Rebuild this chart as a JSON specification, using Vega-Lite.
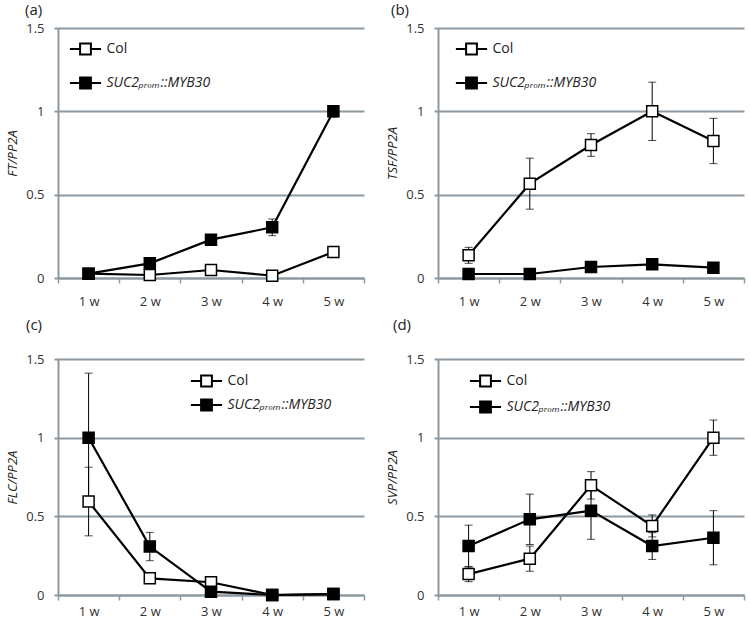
{
  "$schema": "https://vega.github.io/schema/vega-lite/v6.json",
  "padding": {"top": 3, "left": 6, "right": 5, "bottom": 5},
  "background": "white",
  "config": {
    "view": {"stroke": null},
    "font": "Open Sans",
    "axisY": {"grid": true, "gridColor": "#8d989f", "gridWidth": 2.2, "domainColor": "#8d989f", "domainWidth": 2, "tickColor": "#8d989f", "tickWidth": 2, "tickSize": 4, "labelPadding": 10, "labelExpr": "'' + datum.value", "labelFontSize": 13, "labelColor": "#333333", "labelFont": "Open Sans", "titleFont": "Open Sans", "titleFontStyle": "italic", "titleFontWeight": "normal", "titleFontSize": 13, "titleColor": "#222222", "titlePadding": 6},
    "axisX": {"grid": false, "domainColor": "#8d989f", "domainWidth": 2, "tickColor": "#8d989f", "tickWidth": 1.5, "tickSize": 5, "tickBand": "extent", "labelAngle": 0, "labelPadding": 5, "labelFontSize": 13, "labelColor": "#333333", "labelFont": "Open Sans", "title": null},
    "legend": {"orient": "none", "title": null, "padding": 0, "symbolSize": 144, "symbolType": "M-2.6,0H-0.9M0.9,0H2.6M-0.9,-0.9H0.9V0.9H-0.9Z", "symbolStrokeColor": "black", "symbolStrokeWidth": 2, "labelOffset": 14, "labelFont": "Open Sans", "labelFontSize": 14, "labelColor": "#222222", "labelFontStyle": {"expr": "datum.value === 'Col' ? 'normal' : 'italic'"}},
    "title": {"anchor": "start", "frame": "group", "fontSize": 15, "fontWeight": "normal", "font": "Open Sans", "color": "#222222"}
  },
  "datasets": {
    "d": [
      {"gene": "FT", "week": "1 w", "series": "Col", "value": 0.026, "err": 0.005},
      {"gene": "FT", "week": "2 w", "series": "Col", "value": 0.018, "err": 0.005},
      {"gene": "FT", "week": "3 w", "series": "Col", "value": 0.048, "err": 0.008},
      {"gene": "FT", "week": "4 w", "series": "Col", "value": 0.014, "err": 0.005},
      {"gene": "FT", "week": "5 w", "series": "Col", "value": 0.156, "err": 0.01},
      {"gene": "FT", "week": "1 w", "series": "SUC2ₚᵣₒₘ::MYB30", "value": 0.026, "err": 0.008},
      {"gene": "FT", "week": "2 w", "series": "SUC2ₚᵣₒₘ::MYB30", "value": 0.088, "err": 0.01},
      {"gene": "FT", "week": "3 w", "series": "SUC2ₚᵣₒₘ::MYB30", "value": 0.23, "err": 0.02},
      {"gene": "FT", "week": "4 w", "series": "SUC2ₚᵣₒₘ::MYB30", "value": 0.304, "err": 0.05},
      {"gene": "FT", "week": "5 w", "series": "SUC2ₚᵣₒₘ::MYB30", "value": 1.0, "err": 0.035},
      {"gene": "TSF", "week": "1 w", "series": "Col", "value": 0.136, "err": 0.048},
      {"gene": "TSF", "week": "2 w", "series": "Col", "value": 0.566, "err": 0.153},
      {"gene": "TSF", "week": "3 w", "series": "Col", "value": 0.798, "err": 0.068},
      {"gene": "TSF", "week": "4 w", "series": "Col", "value": 1.0, "err": 0.175},
      {"gene": "TSF", "week": "5 w", "series": "Col", "value": 0.822, "err": 0.136},
      {"gene": "TSF", "week": "1 w", "series": "SUC2ₚᵣₒₘ::MYB30", "value": 0.024, "err": 0.005},
      {"gene": "TSF", "week": "2 w", "series": "SUC2ₚᵣₒₘ::MYB30", "value": 0.024, "err": 0.005},
      {"gene": "TSF", "week": "3 w", "series": "SUC2ₚᵣₒₘ::MYB30", "value": 0.066, "err": 0.01},
      {"gene": "TSF", "week": "4 w", "series": "SUC2ₚᵣₒₘ::MYB30", "value": 0.082, "err": 0.01},
      {"gene": "TSF", "week": "5 w", "series": "SUC2ₚᵣₒₘ::MYB30", "value": 0.062, "err": 0.008},
      {"gene": "FLC", "week": "1 w", "series": "Col", "value": 0.594, "err": 0.218},
      {"gene": "FLC", "week": "2 w", "series": "Col", "value": 0.106, "err": 0.01},
      {"gene": "FLC", "week": "3 w", "series": "Col", "value": 0.081, "err": 0.01},
      {"gene": "FLC", "week": "4 w", "series": "Col", "value": 0.0, "err": 0.002},
      {"gene": "FLC", "week": "5 w", "series": "Col", "value": 0.006, "err": 0.002},
      {"gene": "FLC", "week": "1 w", "series": "SUC2ₚᵣₒₘ::MYB30", "value": 1.0, "err": 0.41},
      {"gene": "FLC", "week": "2 w", "series": "SUC2ₚᵣₒₘ::MYB30", "value": 0.308, "err": 0.09},
      {"gene": "FLC", "week": "3 w", "series": "SUC2ₚᵣₒₘ::MYB30", "value": 0.021, "err": 0.005},
      {"gene": "FLC", "week": "4 w", "series": "SUC2ₚᵣₒₘ::MYB30", "value": 0.0, "err": 0.002},
      {"gene": "FLC", "week": "5 w", "series": "SUC2ₚᵣₒₘ::MYB30", "value": 0.006, "err": 0.003},
      {"gene": "SVP", "week": "1 w", "series": "Col", "value": 0.133, "err": 0.048},
      {"gene": "SVP", "week": "2 w", "series": "Col", "value": 0.231, "err": 0.08},
      {"gene": "SVP", "week": "3 w", "series": "Col", "value": 0.697, "err": 0.087},
      {"gene": "SVP", "week": "4 w", "series": "Col", "value": 0.439, "err": 0.07},
      {"gene": "SVP", "week": "5 w", "series": "Col", "value": 1.0, "err": 0.112},
      {"gene": "SVP", "week": "1 w", "series": "SUC2ₚᵣₒₘ::MYB30", "value": 0.311, "err": 0.133},
      {"gene": "SVP", "week": "2 w", "series": "SUC2ₚᵣₒₘ::MYB30", "value": 0.481, "err": 0.16},
      {"gene": "SVP", "week": "3 w", "series": "SUC2ₚᵣₒₘ::MYB30", "value": 0.536, "err": 0.182},
      {"gene": "SVP", "week": "4 w", "series": "SUC2ₚᵣₒₘ::MYB30", "value": 0.311, "err": 0.085},
      {"gene": "SVP", "week": "5 w", "series": "SUC2ₚᵣₒₘ::MYB30", "value": 0.364, "err": 0.172}
    ]
  },
  "data": {"name": "d"},
  "spacing": 10,
  "resolve": {"scale": {"fill": "independent"}, "legend": {"fill": "independent"}},
  "vconcat": [
    {
      "spacing": 21,
      "resolve": {"scale": {"fill": "independent"}, "legend": {"fill": "independent"}},
      "hconcat": [
        {
          "title": {"text": "(a)", "dx": -33, "offset": 4},
          "width": 306, "height": 250,
          "transform": [{"filter": "datum.gene == 'FT'"}],
          "encoding": {
            "x": {"field": "week", "type": "ordinal", "scale": {"type": "band", "paddingInner": 0, "paddingOuter": 0}, "axis": {"labelPadding": 12}},
            "y": {"field": "value", "type": "quantitative", "scale": {"domain": [0, 1.5], "nice": false}, "title": "FT/PP2A", "axis": {"values": [0, 0.5, 1, 1.5]}}
          },
          "layer": [
            {"mark": {"type": "errorbar", "ticks": true, "thickness": 1, "size": 8, "color": "black"}, "encoding": {"yError": {"field": "err"}, "detail": {"field": "series"}}},
            {"mark": {"type": "line", "color": "black", "strokeWidth": 2.2}, "encoding": {"detail": {"field": "series"}}},
            {"mark": {"type": "point", "shape": "square", "size": 121, "filled": true, "stroke": "black", "strokeWidth": 1.5, "opacity": 1},
             "encoding": {"fill": {"field": "series", "type": "nominal", "scale": {"domain": ["Col", "SUC2ₚᵣₒₘ::MYB30"], "range": ["white", "black"]},
               "legend": {"legendX": 20.5, "legendY": 14, "rowPadding": 14}}}}
          ]
        },
        {
          "title": {"text": "(b)", "dx": -47, "offset": 4},
          "width": 306, "height": 250,
          "transform": [{"filter": "datum.gene == 'TSF'"}],
          "encoding": {
            "x": {"field": "week", "type": "ordinal", "scale": {"type": "band", "paddingInner": 0, "paddingOuter": 0}, "axis": {"labelPadding": 12}},
            "y": {"field": "value", "type": "quantitative", "scale": {"domain": [0, 1.5], "nice": false}, "title": "TSF/PP2A", "axis": {"values": [0, 0.5, 1, 1.5]}}
          },
          "layer": [
            {"mark": {"type": "errorbar", "ticks": true, "thickness": 1, "size": 8, "color": "black"}, "encoding": {"yError": {"field": "err"}, "detail": {"field": "series"}}},
            {"mark": {"type": "line", "color": "black", "strokeWidth": 2.2}, "encoding": {"detail": {"field": "series"}}},
            {"mark": {"type": "point", "shape": "square", "size": 121, "filled": true, "stroke": "black", "strokeWidth": 1.5, "opacity": 1},
             "encoding": {"fill": {"field": "series", "type": "nominal", "scale": {"domain": ["Col", "SUC2ₚᵣₒₘ::MYB30"], "range": ["white", "black"]},
               "legend": {"legendX": 26.5, "legendY": 14, "rowPadding": 14}}}}
          ]
        }
      ]
    },
    {
      "spacing": 21,
      "resolve": {"scale": {"fill": "independent"}, "legend": {"fill": "independent"}},
      "hconcat": [
        {
          "title": {"text": "(c)", "dx": -32, "offset": 20},
          "width": 306, "height": 236,
          "transform": [{"filter": "datum.gene == 'FLC'"}],
          "encoding": {
            "x": {"field": "week", "type": "ordinal", "scale": {"type": "band", "paddingInner": 0, "paddingOuter": 0}},
            "y": {"field": "value", "type": "quantitative", "scale": {"domain": [0, 1.5], "nice": false}, "title": "FLC/PP2A", "axis": {"values": [0, 0.5, 1, 1.5]}}
          },
          "layer": [
            {"mark": {"type": "errorbar", "ticks": true, "thickness": 1, "size": 8, "color": "black"}, "encoding": {"yError": {"field": "err"}, "detail": {"field": "series"}}},
            {"mark": {"type": "line", "color": "black", "strokeWidth": 2.2}, "encoding": {"detail": {"field": "series"}}},
            {"mark": {"type": "point", "shape": "square", "size": 121, "filled": true, "stroke": "black", "strokeWidth": 1.5, "opacity": 1},
             "encoding": {"fill": {"field": "series", "type": "nominal", "scale": {"domain": ["Col", "SUC2ₚᵣₒₘ::MYB30"], "range": ["white", "black"]},
               "legend": {"legendX": 141.5, "legendY": 15, "rowPadding": 4}}}}
          ]
        },
        {
          "title": {"text": "(d)", "dx": -45, "offset": 20},
          "width": 306, "height": 236,
          "transform": [{"filter": "datum.gene == 'SVP'"}],
          "encoding": {
            "x": {"field": "week", "type": "ordinal", "scale": {"type": "band", "paddingInner": 0, "paddingOuter": 0}},
            "y": {"field": "value", "type": "quantitative", "scale": {"domain": [0, 1.5], "nice": false}, "title": "SVP/PP2A", "axis": {"values": [0, 0.5, 1, 1.5]}}
          },
          "layer": [
            {"mark": {"type": "errorbar", "ticks": true, "thickness": 1, "size": 8, "color": "black"}, "encoding": {"yError": {"field": "err"}, "detail": {"field": "series"}}},
            {"mark": {"type": "line", "color": "black", "strokeWidth": 2.2}, "encoding": {"detail": {"field": "series"}}},
            {"mark": {"type": "point", "shape": "square", "size": 121, "filled": true, "stroke": "black", "strokeWidth": 1.5, "opacity": 1},
             "encoding": {"fill": {"field": "series", "type": "nominal", "scale": {"domain": ["Col", "SUC2ₚᵣₒₘ::MYB30"], "range": ["white", "black"]},
               "legend": {"legendX": 40.5, "legendY": 15, "rowPadding": 6}}}}
          ]
        }
      ]
    }
  ]
}
